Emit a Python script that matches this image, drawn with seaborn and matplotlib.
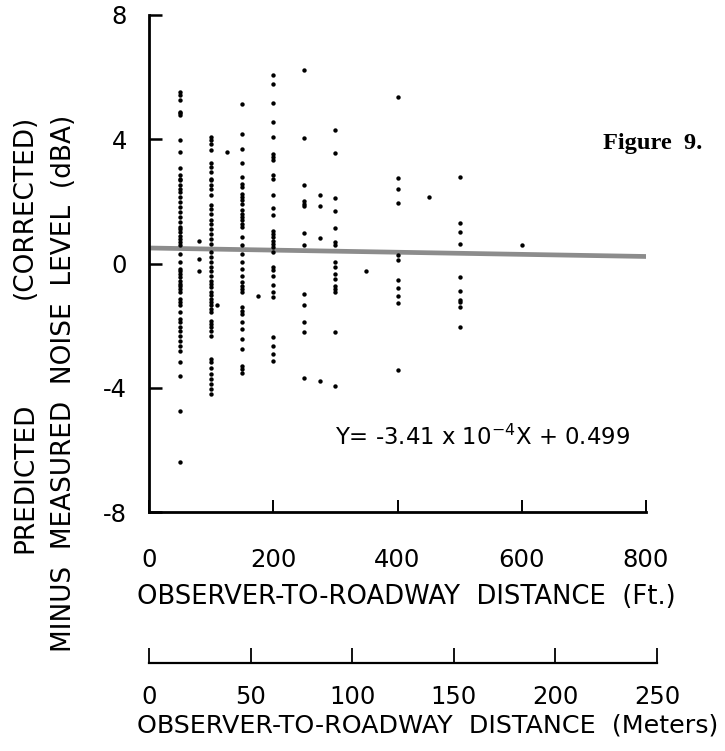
import matplotlib
matplotlib.use("Agg")
import matplotlib.pyplot as plt
import seaborn as sns
import pandas as pd

# ---------------- data ----------------
dist_50 = [5.53, 5.42, 5.26, 4.88, 4.83, 4.77, 3.97, 3.59, 3.09, 2.84, 2.73, 2.68, 2.52, 2.41,
           2.30, 2.14, 1.98, 1.82, 1.65, 1.49, 1.33, 1.17, 1.12, 1.01, 0.90, 0.80, 0.69, 0.58,
           0.32, 0.04, -0.17, -0.23, -0.33, -0.44, -0.55, -0.66, -0.71, -0.82, -0.92, -1.14,
           -1.25, -1.35, -1.57, -1.78, -1.89, -2.05, -2.16, -2.32, -2.48, -2.65, -2.81, -3.18,
           -3.61, -4.74, -6.40]
dist_100 = [4.08, 3.97, 3.86, 3.65, 3.22, 3.11, 2.95, 2.73, 2.68, 2.52, 2.41, 2.19, 1.87, 1.76,
            1.60, 1.39, 1.28, 1.12, 0.96, 0.80, 0.63, 0.36, 0.20, 0.04, -0.12, -0.23, -0.39,
            -0.55, -0.66, -0.76, -0.92, -1.03, -1.14, -1.25, -1.35, -1.46, -1.57, -1.84, -1.95,
            -2.05, -2.16, -2.32, -3.07, -3.18, -3.35, -3.56, -3.72, -3.88, -4.04, -4.20]
dist_150 = [5.15, 4.18, 3.70, 3.22, 2.78, 2.57, 2.46, 2.25, 2.14, 2.03, 1.92, 1.71, 1.60, 1.49,
            1.39, 1.28, 1.17, 0.85, 0.58, 0.31, 0.04, -0.17, -0.39, -0.60, -0.71, -0.82, -0.92,
            -1.41, -1.52, -1.62, -1.89, -2.11, -2.43, -2.75, -3.29, -3.40, -3.51]
dist_200 = [6.06, 5.77, 5.17, 4.56, 4.08, 3.52, 3.43, 3.32, 2.84, 2.73, 2.19, 1.80, 1.55, 1.06,
            0.96, 0.85, 0.74, 0.63, 0.53, 0.36, -0.12, -0.20, -0.39, -0.68, -0.92, -1.09,
            -2.38, -2.65, -2.91, -3.13]
dist_250 = [6.23, 4.04, 2.52, 2.01, 1.92, 1.84, 0.98, 0.61, -0.98, -1.32, -1.87, -2.19, -3.69]
dist_275 = [2.19, 1.84, 0.83, -3.77]
dist_300 = [4.29, 3.56, 2.11, 1.68, 1.14, 0.69, 0.58, 0.06, -0.12, -0.33, -0.49, -0.71, -0.82,
            -0.92, -2.19, -3.94]
dist_400 = [5.35, 2.76, 2.41, 1.95, 0.26, 0.10, -0.52, -0.78, -1.05, -1.27, -3.42]
dist_500 = [2.79, 1.31, 1.01, 0.63, -0.42, -0.89, -1.16, -1.25, -1.41, -2.05]
extra_ft = [80, 80, 80, 110, 125, 175, 350, 450, 600]
extra_db = [0.72, 0.15, -0.25, -1.35, 3.59, -1.05, -0.25, 2.14, 0.58]

fit_slope = -3.41e-4
fit_intercept = 0.499
fit_x = [0, 800]

ft_ticks = [0, 200, 400, 600, 800]
y_ticks = [-8, -4, 0, 4, 8]
m_ticks = [0, 50, 100, 150, 200, 250]

equation = r"Y= -3.41 x 10$^{-4}$X + 0.499"
caption = "Figure  9."
ft_title = "OBSERVER-TO-ROADWAY  DISTANCE  (Ft.)"
m_title = "OBSERVER-TO-ROADWAY  DISTANCE  (Meters)"
ylab_a1, ylab_a2 = "PREDICTED", "(CORRECTED)"
ylab_b = "MINUS  MEASURED  NOISE  LEVEL  (dBA)"

# ---------------- build tables ----------------
rows = []
for ft, vals in [(50, dist_50), (100, dist_100), (150, dist_150), (200, dist_200),
                 (250, dist_250), (275, dist_275), (300, dist_300), (400, dist_400),
                 (500, dist_500)]:
    rows += [(ft, v) for v in vals]
rows += list(zip(extra_ft, extra_db))
df = pd.DataFrame(rows, columns=["ft", "db"])
fit_df = pd.DataFrame({"ft": fit_x, "db": [fit_slope * x + fit_intercept for x in fit_x]})

# ---------------- figure ----------------
sns.set_style("white")
plt.rcParams["font.family"] = ["DejaVu Sans"]
plt.rcParams["text.color"] = "black"
plt.rcParams["xtick.color"] = "black"
plt.rcParams["ytick.color"] = "black"
plt.rcParams["xtick.labelcolor"] = "black"
plt.rcParams["ytick.labelcolor"] = "black"

W, H = 725, 751
fig = plt.figure(figsize=(W / 100, H / 100), dpi=100)

def fx(px):
    return px / W

def fy(py):
    return 1 - py / H

x0, x800 = 149, 646
ytop, ybot = 15, 512
ax = fig.add_axes([fx(x0), fy(ybot), fx(x800) - fx(x0), fy(ytop) - fy(ybot)])

sns.lineplot(data=fit_df, x="ft", y="db", ax=ax, color="#8c8c8c", linewidth=3.4, zorder=1)
sns.scatterplot(data=df, x="ft", y="db", ax=ax, color="black", s=10, linewidth=0, zorder=2)

ax.set_xlim(0, 800)
ax.set_ylim(-8, 8)
ax.set_xlabel("")
ax.set_ylabel("")
for s in ["top", "right"]:
    ax.spines[s].set_visible(False)
for s in ["left", "bottom"]:
    ax.spines[s].set_linewidth(2.0)
    ax.spines[s].set_color("black")

ax.set_xticks(ft_ticks)
ax.set_xticklabels([str(t) for t in ft_ticks])
ax.set_yticks(y_ticks)
ax.set_yticklabels([str(t) for t in y_ticks])
ax.tick_params(axis="x", bottom=True, direction="in", length=9, width=1.4, pad=26,
               labelsize=17.5)
ax.tick_params(axis="y", left=True, direction="in", length=9, width=1.8, pad=16,
               labelsize=17.5)

renderer = fig.canvas.get_renderer()

def fit_width(t, target, vertical=False):
    bb = t.get_window_extent(renderer)
    cur = bb.height if vertical else bb.width
    t.set_fontsize(t.get_fontsize() * target / cur)

# equation
t_eq = ax.text(300, -5.6, equation, fontsize=15, ha="left", va="center")
fit_width(t_eq, 296)

# Figure caption
t_cap = fig.text(fx(603), fy(143), caption, family="Liberation Serif", weight="bold",
                 fontsize=16, ha="left", va="center")
fit_width(t_cap, 100)

# feet label
t_ft = fig.text(fx(137), fy(597), ft_title, ha="left", va="center", fontsize=16)
fit_width(t_ft, 540)

# meters axis
ax2 = fig.add_axes([fx(x0), fy(663), fx(657) - fx(x0), 0.0001])
ax2.set_xlim(0, 250)
ax2.set_ylim(0, 1)
for s in ["top", "right", "left"]:
    ax2.spines[s].set_visible(False)
ax2.spines["bottom"].set_linewidth(1.6)
ax2.spines["bottom"].set_color("black")
ax2.set_yticks([])
ax2.set_xticks(m_ticks)
ax2.set_xticklabels([str(t) for t in m_ticks])
ax2.tick_params(axis="x", bottom=True, direction="in", length=11, width=1.3, pad=16,
                labelsize=17.5)
ax2.patch.set_alpha(0)

t_m = fig.text(fx(137), fy(726), m_title, ha="left", va="center", fontsize=16)
fit_width(t_m, 583)

# y label (two rotated lines)
t_l2 = fig.text(fx(64), fy(115), ylab_b, rotation=90, rotation_mode="anchor",
                ha="right", va="center", fontsize=16)
fit_width(t_l2, 536, vertical=True)
fs = t_l2.get_fontsize()
fig.text(fx(25), fy(115), ylab_a2, rotation=90, rotation_mode="anchor",
         ha="right", va="center", fontsize=fs)
fig.text(fx(25), fy(553), ylab_a1, rotation=90, rotation_mode="anchor",
         ha="left", va="center", fontsize=fs)

fig.savefig("out.png", dpi=100)
